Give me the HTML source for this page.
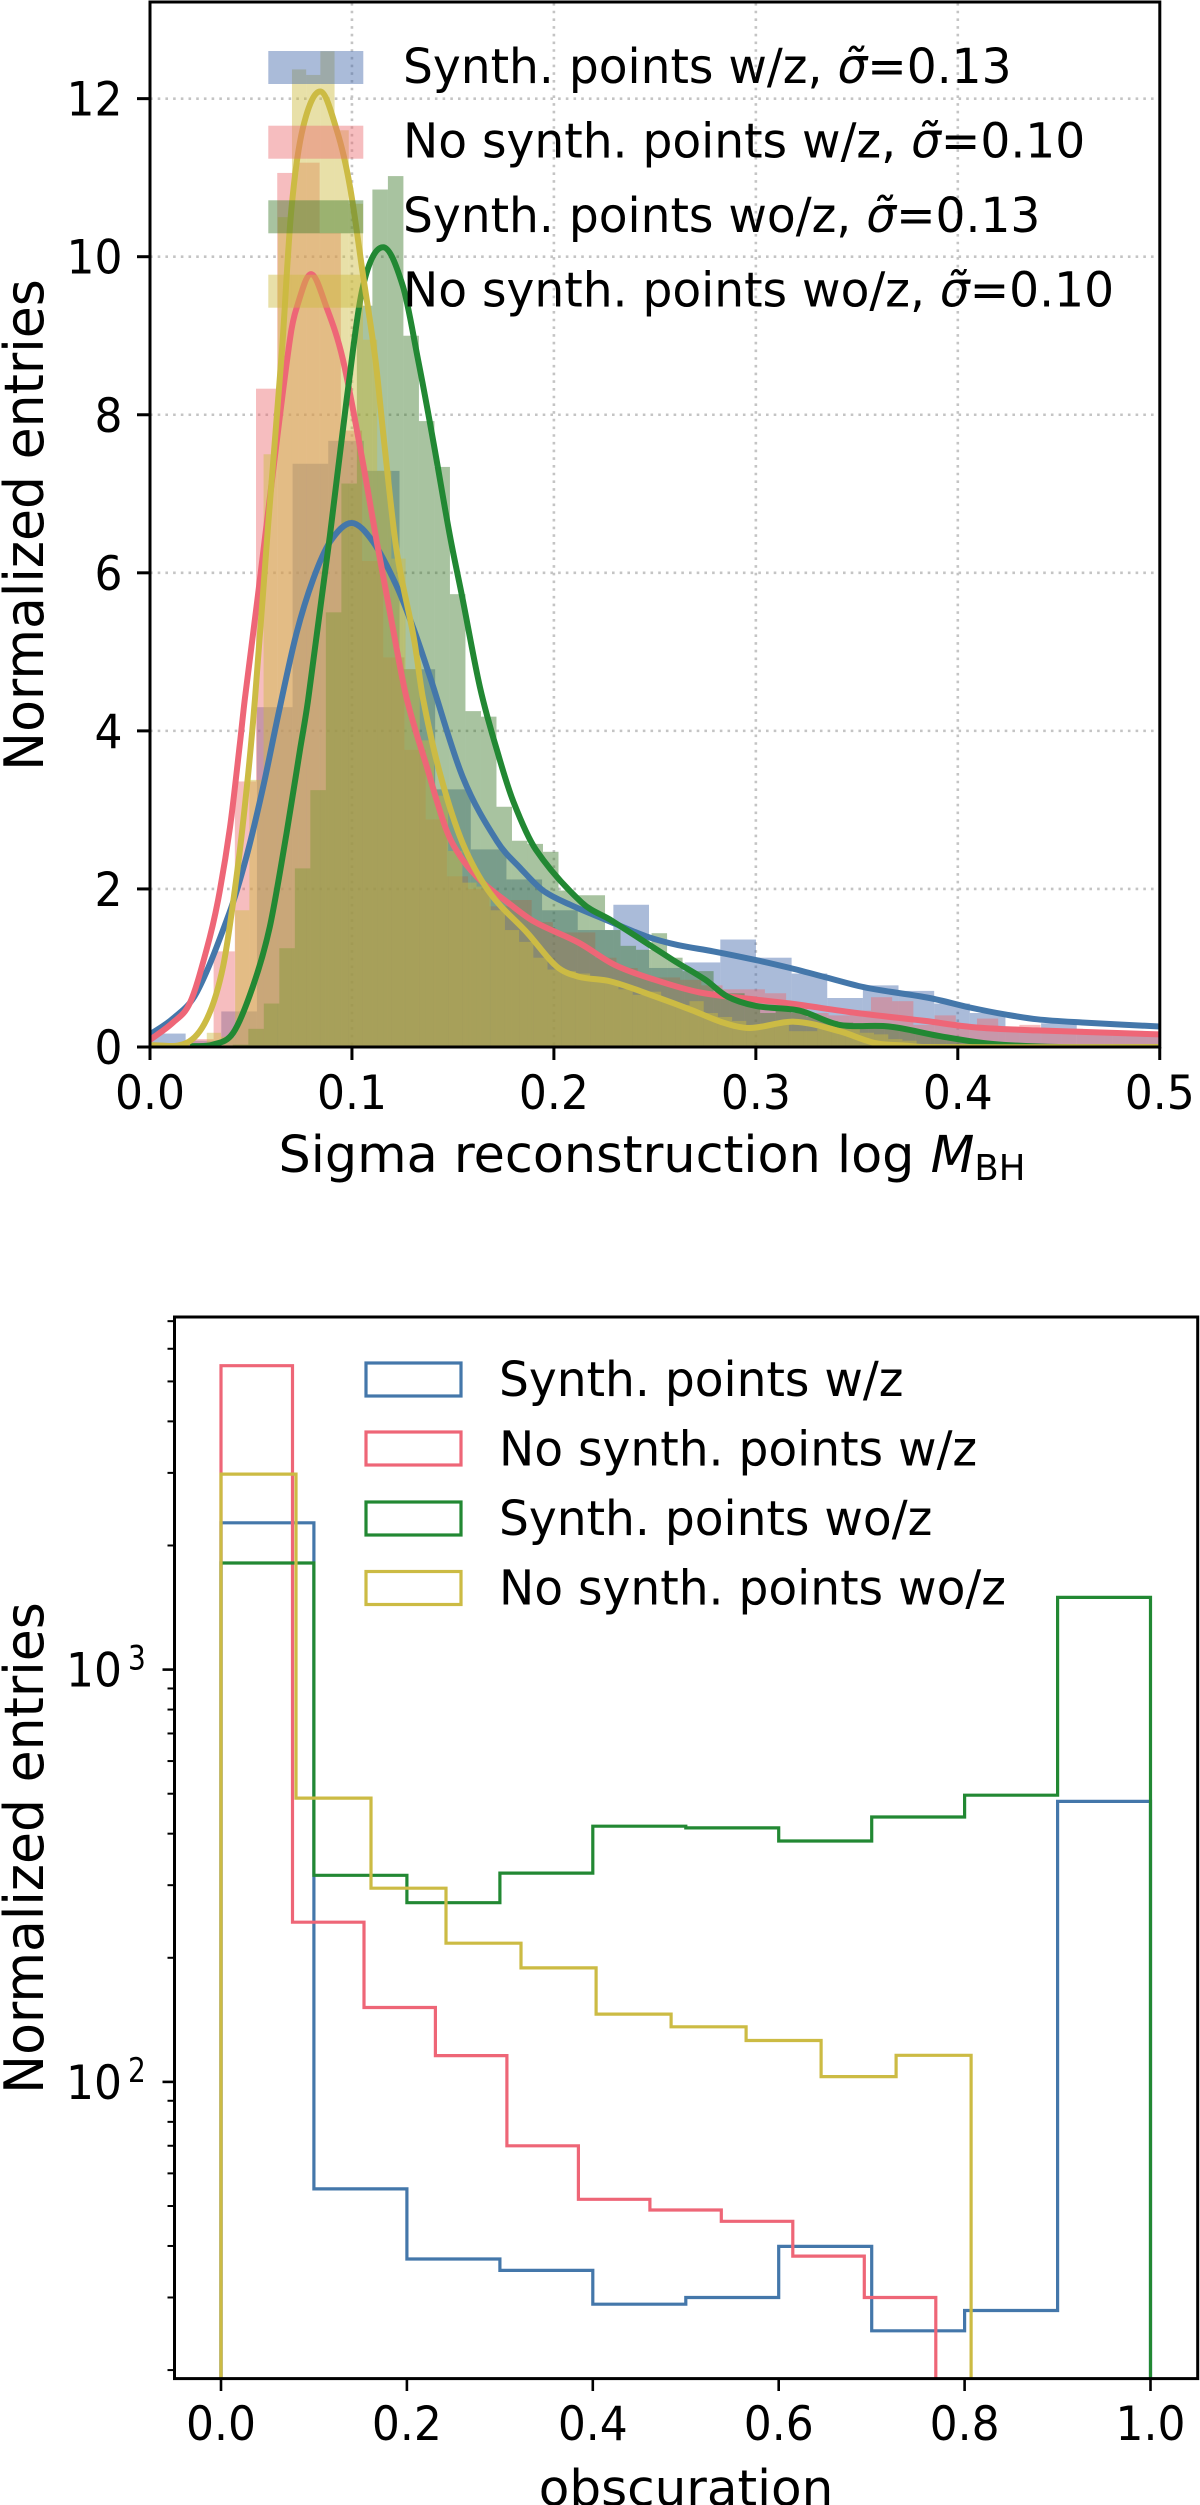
<!DOCTYPE html>
<html lang="en">
<head>
<meta charset="utf-8">
<title>Sigma reconstruction and obscuration histograms</title>
<style>
html,body{margin:0;padding:0;background:#fff;}
svg{display:block;}
text{font-family:"DejaVu Sans","Liberation Sans",sans-serif;fill:#000;}
</style>
</head>
<body>
<svg id="fig" xmlns="http://www.w3.org/2000/svg" width="1200" height="2505" viewBox="0 0 1200 2505">
  <defs>
    <clipPath id="clip-top"><rect x="150" y="2" width="1009.8" height="1045"/></clipPath>
    <clipPath id="clip-bottom"><rect x="174.5" y="1317" width="1023.2" height="1061.6"/></clipPath>
  </defs>

  <g id="top-plot">
    <g id="top-grid"></g>
    <g id="top-hists" clip-path="url(#clip-top)"></g>
    <g id="top-curves" clip-path="url(#clip-top)"></g>
    <g id="top-axes"></g>

    <g font-size="47.1">
      <rect x="268.3" y="51" width="95" height="33" fill="#4268AB" opacity="0.45"/>
      <rect x="268.3" y="125.7" width="95" height="33" fill="#EB6C71" opacity="0.45"/>
      <rect x="268.3" y="200.3" width="95" height="33" fill="#3E7A2C" opacity="0.45"/>
      <rect x="268.3" y="274.7" width="95" height="33" fill="#CCBA3E" opacity="0.45"/>
      <text transform="translate(403,83) scale(1,1.03)">Synth. points w/z, <tspan font-style="italic">σ̃</tspan>=0.13</text>
      <text transform="translate(403,157.5) scale(1,1.03)">No synth. points w/z, <tspan font-style="italic">σ̃</tspan>=0.10</text>
      <text transform="translate(403,232) scale(1,1.03)">Synth. points wo/z, <tspan font-style="italic">σ̃</tspan>=0.13</text>
      <text transform="translate(403,306.5) scale(1,1.03)">No synth. points wo/z, <tspan font-style="italic">σ̃</tspan>=0.10</text>
    </g>

    <text font-size="52" text-anchor="middle" transform="translate(43,525) rotate(-90) scale(1,1.04)">Normalized entries</text>
    <text font-size="50.8" text-anchor="middle" transform="translate(652,1172)">Sigma reconstruction log <tspan font-style="italic">M</tspan><tspan font-size="35.5" dy="8">BH</tspan></text>
  </g>

  <g id="bottom-plot">
    <g id="bottom-steps" clip-path="url(#clip-bottom)"></g>
    <g id="bottom-axes"></g>

    <g font-size="47.1" fill="none" stroke-width="3.2">
      <rect x="366" y="1363" width="95" height="33" fill="none" stroke="#4477AA"/>
      <rect x="366" y="1432" width="95" height="33" fill="none" stroke="#EE6677"/>
      <rect x="366" y="1502" width="95" height="33" fill="none" stroke="#228833"/>
      <rect x="366" y="1571.5" width="95" height="33" fill="none" stroke="#CCBB44"/>
      <text stroke="none" transform="translate(499,1396) scale(1,1.03)">Synth. points w/z</text>
      <text stroke="none" transform="translate(499,1465.5) scale(1,1.03)">No synth. points w/z</text>
      <text stroke="none" transform="translate(499,1535) scale(1,1.03)">Synth. points wo/z</text>
      <text stroke="none" transform="translate(499,1604.5) scale(1,1.03)">No synth. points wo/z</text>
    </g>

    <text font-size="52" text-anchor="middle" transform="translate(43,1848) rotate(-90) scale(1,1.04)">Normalized entries</text>
    <text font-size="50" text-anchor="middle" transform="translate(686,2505.5)">obscuration</text>
  </g>
</svg>

<script>
// ===== Top chart data =====
const topXTicks = [0.0, 0.1, 0.2, 0.3, 0.4, 0.5];
const topYTicks = [0, 2, 4, 6, 8, 10, 12];
const topGridX = [0.1, 0.2, 0.3, 0.4];
const topGridY = [2, 4, 6, 8, 10, 12];

const blueBinWidth = 0.01765;
const blueBins = [0.17,0.08,0.45,4.3,7.38,7.67,7.29,4.78,3.26,2.5,2.12,1.73,1.48,1.8,1.0,1.07,1.36,1.13,0.93,0.62,0.78,0.71,0.55,0.43,0.24,0.3,0.2,0.18,0.18];

const redBinWidth = 0.0105;
const redBins = [0.02,0.05,0.1,1.21,3.36,8.33,11.06,11.19,10.3,7.8,6.15,4.93,3.76,2.88,2.16,2.0,1.78,1.86,1.58,1.45,1.45,1.13,1.0,0.88,0.88,0.85,0.78,0.73,0.73,0.68,0.53,0.43,0.4,0.46,0.63,0.58,0.28,0.4,0.28,0.36,0.26,0.28,0.23,0.23,0.18,0.18,0.14,0.14,0.14];

const greenBinStart = 0.0026;
const greenBinWidth = 0.00768;
const greenBins = [0,0,0,0,0,0.03,0.23,0.55,1.25,2.26,3.25,5.5,7.13,9.38,10.85,11.02,9.0,7.92,7.34,5.73,4.25,4.18,3.04,2.61,2.57,2.47,1.98,1.92,1.92,1.48,1.28,1.23,1.44,1.13,0.96,0.96,0.68,0.68,0.52,0.43,0.46,0.43,0.38,0.33,0.31,0.28,0.26,0.26,0.23,0.18,0.13,0.1,0.08,0.05,0.03,0.01];

const yellowBinWidth = 0.00703;
const yellowBins = [0,0,0,0.01,0.18,0.13,1.73,3.38,7.5,10.5,12.37,12.3,12.6,11.6,10.67,8.95,7.29,6.18,4.78,3.88,3.18,2.48,2.08,2.03,1.73,1.48,1.33,1.13,0.98,0.96,0.93,0.83,0.83,0.73,0.66,0.7,0.58,0.53,0.58,0.43,0.38,0.33,0.28,0.26,0.28,0.2,0.2,0.23,0.26,0.23,0.18,0.16,0.1,0.08,0.03,0.01];

const blueKdeX = [0,0.0114,0.0231,0.0392,0.0478,0.0561,0.0643,0.0726,0.0808,0.0891,0.0998,0.1105,0.122,0.1307,0.1387,0.1548,0.1719,0.1835,0.1946,0.208,0.2257,0.2458,0.2614,0.279,0.3,0.317,0.335,0.3547,0.386,0.406,0.4238,0.4394,0.4616,0.5];
const blueKdeY = [0.16,0.36,0.69,1.69,2.41,3.3,4.3,5.24,5.92,6.39,6.63,6.39,5.84,5.28,4.68,3.42,2.6,2.26,1.98,1.8,1.61,1.4,1.29,1.21,1.1,1.0,0.88,0.75,0.62,0.5,0.41,0.35,0.31,0.26];

const redKdeX = [0,0.0114,0.0198,0.028,0.0337,0.0396,0.0445,0.047,0.0534,0.0603,0.0693,0.0727,0.0797,0.0874,0.0955,0.106,0.1123,0.1206,0.1271,0.137,0.1467,0.1548,0.1648,0.1766,0.19,0.2123,0.23,0.25,0.2724,0.3,0.317,0.35,0.3837,0.408,0.439,0.5];
const redKdeY = [0.09,0.31,0.56,1.23,1.86,2.78,3.84,4.41,5.7,7.15,8.96,9.36,9.78,9.36,8.7,7.31,6.39,5.25,4.41,3.55,2.75,2.37,2.08,1.84,1.59,1.32,1.04,0.85,0.69,0.6,0.55,0.43,0.33,0.25,0.21,0.16];

const greenKdeX = [0.0198,0.0312,0.0412,0.051,0.0593,0.0676,0.0743,0.0784,0.0891,0.0974,0.1055,0.1154,0.1252,0.1327,0.1401,0.1485,0.1548,0.1634,0.1722,0.18,0.191,0.2137,0.2286,0.259,0.275,0.2858,0.3,0.3215,0.3414,0.366,0.3906,0.4167,0.45,0.5];
const greenKdeY = [0.01,0.03,0.18,0.77,1.52,2.7,3.76,4.41,6.47,8.2,9.63,10.12,9.63,8.7,7.69,6.47,5.67,4.55,3.72,3.1,2.5,1.83,1.6,1.1,0.85,0.64,0.52,0.46,0.28,0.26,0.14,0.04,0,0];

const yellowKdeX = [0,0.018,0.0281,0.0362,0.0429,0.0478,0.052,0.0585,0.0653,0.07,0.0759,0.0845,0.0925,0.099,0.1055,0.1116,0.1156,0.122,0.1307,0.1352,0.1436,0.1548,0.1683,0.187,0.2013,0.2123,0.228,0.25,0.268,0.2837,0.297,0.319,0.3414,0.359,0.3727,0.3837,0.5];
const yellowKdeY = [0.02,0.05,0.35,1.02,2.16,3.25,4.41,6.6,8.8,10.6,11.65,12.09,11.6,10.89,9.76,8.7,7.73,6.3,5.17,4.41,3.46,2.58,1.95,1.44,1.02,0.89,0.83,0.64,0.47,0.31,0.24,0.32,0.2,0.05,0.02,0.0,0.0];

// ===== Bottom chart data =====
const bottomXTicks = [0.0, 0.2, 0.4, 0.6, 0.8, 1.0];
const bottomYMajor = [100, 1000];
const bottomYMinor = [20,30,40,50,60,70,80,90,200,300,400,500,600,700,800,900,2000,3000,4000,5000,6000,7000];

const stepBlueWidth = 0.1;
const stepBlue = [2270,55,37.2,34.9,28.9,30,39.9,24.9,27.9,479];
const stepRedWidth = 0.0769;
const stepRed = [5458,244,151.5,115.8,70,51.9,48.9,45.9,37.8,30];
const stepGreenWidth = 0.1;
const stepGreen = [1814,317,272,321,417,413,384,439,496,1497];
const stepYellowWidth = 0.0807;
const stepYellow = [2979,488,295,217,189,146,136,126,103,116];

// ===== Axis functions =====
const NS = "http://www.w3.org/2000/svg";
function topX(v){ return 150 + v * 2019.5; }
function topY(v){ return 1047 - v * 79.03; }
function botX(v){ return 221 + v * 929.5; }
function botY(v){ return 1669.6 - (Math.log10(v) - 3) * 412.3; }

function make(tag, parent){
  const el = document.createElementNS(NS, tag);
  parent.appendChild(el);
  return el;
}
function line(parent, x1, y1, x2, y2, stroke, width){
  const el = make("line", parent);
  el.setAttribute("x1", x1); el.setAttribute("y1", y1);
  el.setAttribute("x2", x2); el.setAttribute("y2", y2);
  el.setAttribute("stroke", stroke); el.setAttribute("stroke-width", width);
  return el;
}
function label(parent, str, x, y, anchor){
  const el = make("text", parent);
  el.setAttribute("font-size", "44");
  el.setAttribute("text-anchor", anchor);
  el.setAttribute("transform", "translate(" + x + "," + y + ") scale(1,1.08)");
  el.textContent = str;
  return el;
}
function smoothPath(xs, ys){
  const px = xs.map(topX), py = ys.map(topY), n = px.length, m = [];
  for (let i = 0; i < n; i++){
    const a = Math.max(0, i - 1), b = Math.min(n - 1, i + 1);
    m.push((py[b] - py[a]) / (px[b] - px[a]));
  }
  let d = "M" + px[0].toFixed(1) + " " + py[0].toFixed(1);
  for (let i = 0; i < n - 1; i++){
    const h = (px[i + 1] - px[i]) / 3;
    d += "C" + (px[i] + h).toFixed(1) + " " + (py[i] + m[i] * h).toFixed(1) + " " +
         (px[i + 1] - h).toFixed(1) + " " + (py[i + 1] - m[i + 1] * h).toFixed(1) + " " +
         px[i + 1].toFixed(1) + " " + py[i + 1].toFixed(1);
  }
  return d;
}

// ----- Top grid -----
const topGrid = document.getElementById("top-grid");
topGridX.forEach(function(v){
  const el = line(topGrid, topX(v), 3, topX(v), 1047, "#c4c4c4", 2.6);
  el.setAttribute("stroke-dasharray", "2.6 5.1");
  
  
});
topGridY.forEach(function(v){
  const el = line(topGrid, 150, topY(v), 1159.8, topY(v), "#c4c4c4", 2.6);
  el.setAttribute("stroke-dasharray", "2.6 5.1");
  
  
});

// ----- Top histograms -----
const topHists = document.getElementById("top-hists");
function drawHist(values, start, width, color, name){
  values.forEach(function(v, i){
    if (v <= 0) return;
    const el = make("rect", topHists);
    const x0 = topX(start + i * width), x1 = topX(start + (i + 1) * width);
    el.setAttribute("x", x0.toFixed(2));
    el.setAttribute("y", topY(v).toFixed(2));
    el.setAttribute("width", (x1 - x0).toFixed(2));
    el.setAttribute("height", (topY(0) - topY(v)).toFixed(2));
    el.setAttribute("fill", color);
    el.setAttribute("opacity", "0.45");
    
    
  });
}
drawHist(blueBins, 0, blueBinWidth, "#4268AB", "hist-bar-synth-wz");
drawHist(redBins, 0, redBinWidth, "#EB6C71", "hist-bar-nosynth-wz");
drawHist(greenBins, greenBinStart, greenBinWidth, "#3E7A2C", "hist-bar-synth-woz");
drawHist(yellowBins, 0, yellowBinWidth, "#CCBA3E", "hist-bar-nosynth-woz");

// ----- Top curves -----
const topCurves = document.getElementById("top-curves");
function drawCurve(xs, ys, color, name){
  const el = make("path", topCurves);
  el.setAttribute("d", smoothPath(xs, ys));
  el.setAttribute("fill", "none");
  el.setAttribute("stroke", color);
  el.setAttribute("stroke-width", "6");
  el.setAttribute("stroke-linejoin", "round");
  
  
}
drawCurve(blueKdeX, blueKdeY, "#4477AA", "kde-curve-synth-wz");
drawCurve(redKdeX, redKdeY, "#EE6677", "kde-curve-nosynth-wz");
drawCurve(greenKdeX, greenKdeY, "#228833", "kde-curve-synth-woz");
drawCurve(yellowKdeX, yellowKdeY, "#CCBB44", "kde-curve-nosynth-woz");

// ----- Top axes -----
const topAxes = document.getElementById("top-axes");
const topFrame = make("rect", topAxes);
topFrame.setAttribute("x", "150");
topFrame.setAttribute("y", "2");
topFrame.setAttribute("width", "1009.8");
topFrame.setAttribute("height", "1045");
topFrame.setAttribute("fill", "none");
topFrame.setAttribute("stroke", "#000");
topFrame.setAttribute("stroke-width", "3");


topXTicks.forEach(function(v){
  const t = line(topAxes, topX(v), 1047, topX(v), 1060, "#000", 3);
  
  
  const l = label(topAxes, v.toFixed(1), topX(v), 1109, "middle");
  
  
});
topYTicks.forEach(function(v){
  const t = line(topAxes, 137, topY(v), 150, topY(v), "#000", 3);
  
  
  const l = label(topAxes, String(v), 122.5, topY(v) + 17, "end");
  
  
});

// ----- Bottom step histograms -----
const bottomSteps = document.getElementById("bottom-steps");
function drawStep(values, width, color, name){
  const baseY = 2395;
  let d = "M" + botX(0).toFixed(1) + " " + baseY;
  values.forEach(function(v, i){
    const y = botY(v).toFixed(1);
    d += "L" + botX(i * width).toFixed(1) + " " + y;
    d += "L" + botX((i + 1) * width).toFixed(1) + " " + y;
  });
  d += "L" + botX(values.length * width).toFixed(1) + " " + baseY;
  const el = make("path", bottomSteps);
  el.setAttribute("d", d);
  el.setAttribute("fill", "none");
  el.setAttribute("stroke", color);
  el.setAttribute("stroke-width", "3.2");
  el.setAttribute("stroke-linejoin", "miter");
  
  
}
drawStep(stepBlue, stepBlueWidth, "#4477AA", "step-hist-synth-wz");
drawStep(stepRed, stepRedWidth, "#EE6677", "step-hist-nosynth-wz");
drawStep(stepGreen, stepGreenWidth, "#228833", "step-hist-synth-woz");
drawStep(stepYellow, stepYellowWidth, "#CCBB44", "step-hist-nosynth-woz");

// ----- Bottom axes -----
const bottomAxes = document.getElementById("bottom-axes");
const bottomFrame = make("rect", bottomAxes);
bottomFrame.setAttribute("x", "174.5");
bottomFrame.setAttribute("y", "1317");
bottomFrame.setAttribute("width", "1023.2");
bottomFrame.setAttribute("height", "1061.6");
bottomFrame.setAttribute("fill", "none");
bottomFrame.setAttribute("stroke", "#000");
bottomFrame.setAttribute("stroke-width", "3");


bottomXTicks.forEach(function(v){
  const t = line(bottomAxes, botX(v), 2378.6, botX(v), 2391, "#000", 2.6);
  
  
  const l = label(bottomAxes, v.toFixed(1), botX(v), 2440, "middle");
  
  
});
bottomYMinor.forEach(function(v){
  const t = line(bottomAxes, 167.5, botY(v), 174.5, botY(v), "#000", 2);
  
  
});
bottomYMajor.forEach(function(v){
  const t = line(bottomAxes, 162.5, botY(v), 174.5, botY(v), "#000", 2.6);
  
  
  const l = label(bottomAxes, "10", 122, botY(v) + 17, "end");
  
  
  const e = make("text", bottomAxes);
  e.setAttribute("font-size", "28");
  e.setAttribute("text-anchor", "start");
  e.setAttribute("transform", "translate(128," + botY(v) + ") scale(1,1.2)");
  e.textContent = String(Math.round(Math.log10(v)));
  
  
});
</script>
</body>
</html>
